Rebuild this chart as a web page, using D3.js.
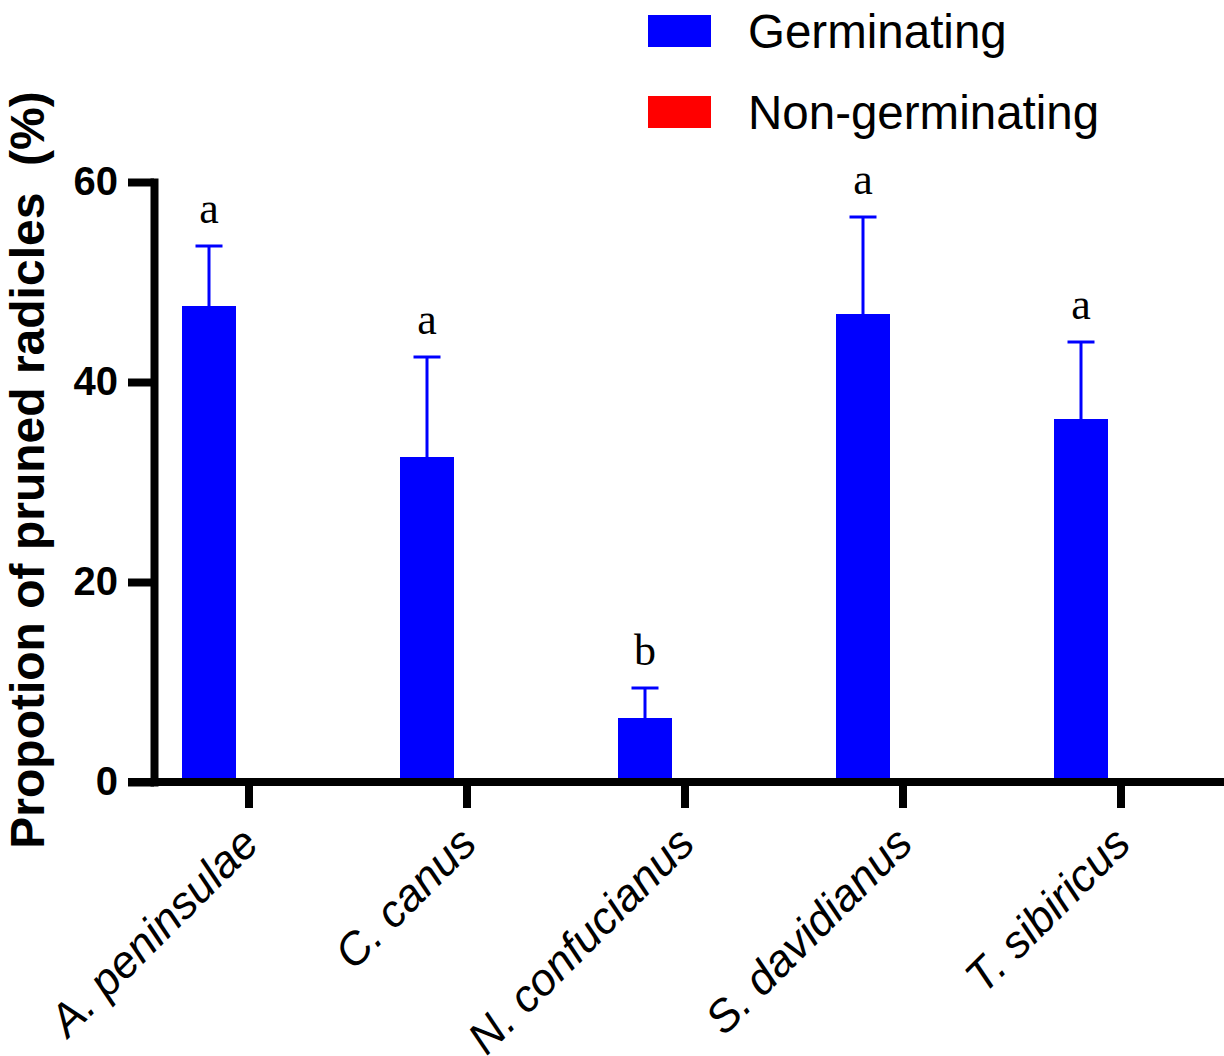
<!DOCTYPE html>
<html>
<head>
<meta charset="utf-8">
<script src="https://cdn.jsdelivr.net/npm/d3@7"></script>
<style>
  body { margin: 0; background: #fff; }
  svg { display: block; }
</style>
</head>
<body>
<div id="chart"></div>
<script>
const species = ['A. peninsulae', 'C. canus', 'N. confucianus', 'S. davidianus', 'T. sibiricus']
const seriesNames = ['Germinating', 'Non-germinating']
const germinating = [47.6, 32.5, 6.4, 46.8, 36.3]
const germinatingErr = [6.0, 10.0, 3.0, 9.7, 7.7]
const nonGerminating = [0, 0, 0, 0, 0]
const letters = ['a', 'a', 'b', 'a', 'a']
const yTicks = [0, 20, 40, 60]

const colors = { Germinating: '#0000ff', 'Non-germinating': '#ff0000' }

const width = 1224
const height = 1056

const svg = d3
  .select('#chart')
  .append('svg')
  .attr('width', width)
  .attr('height', height)

const x = d3.scaleBand().domain(species).range([140, 1230]).padding(0)

const xInner = d3
  .scaleBand()
  .domain(seriesNames)
  .range([0, x.bandwidth()])
  .paddingInner(0.325)
  .paddingOuter(0.525)

const y = d3.scaleLinear().domain([0, 60]).range([782, 182])

// y axis
const yAxis = svg
  .append('g')
  .attr('transform', 'translate(154,0)')
  .call(
    d3
      .axisLeft(y)
      .tickValues(yTicks)
      .tickSize(26)
      .tickSizeOuter(0)
      .tickPadding(10)
  )
yAxis.select('.domain').attr('stroke', '#000').attr('stroke-width', 8).attr('stroke-linecap', 'square')
yAxis.selectAll('.tick line').attr('stroke', '#000').attr('stroke-width', 8)
yAxis
  .selectAll('.tick text')
  .attr('fill', '#000')
  .style('font-family', 'Liberation Sans, Arial, sans-serif')
  .style('font-weight', 'bold')
  .style('font-size', '40px')

// x axis
const xAxis = svg
  .append('g')
  .attr('transform', 'translate(0,782)')
  .call(d3.axisBottom(x).tickSize(26).tickSizeOuter(0).tickFormat(''))
xAxis.select('.domain').remove()
xAxis.selectAll('.tick line').attr('stroke', '#000').attr('stroke-width', 8)
xAxis
  .append('line')
  .attr('x1', 128)
  .attr('x2', width)
  .attr('y1', 0)
  .attr('y2', 0)
  .attr('stroke', '#000')
  .attr('stroke-width', 8)

svg
  .append('g')
  .selectAll('text')
  .data(species)
  .enter()
  .append('text')
  .attr('transform', d => `translate(${x(d) + x.bandwidth() / 2 + 12},846) rotate(-45)`)
  .attr('text-anchor', 'end')
  .style('font-family', 'Liberation Sans, Arial, sans-serif')
  .style('font-style', 'italic')
  .style('font-size', '45px')
  .text(d => d)

// bars
const rows = species.map((s, i) => ({
  species: s,
  values: [
    { key: 'Germinating', value: germinating[i], err: germinatingErr[i] },
    { key: 'Non-germinating', value: nonGerminating[i], err: 0 }
  ],
  letter: letters[i]
}))

const groups = svg
  .append('g')
  .selectAll('g')
  .data(rows)
  .enter()
  .append('g')
  .attr('transform', d => `translate(${x(d.species)},0)`)

groups
  .selectAll('rect')
  .data(d => d.values)
  .enter()
  .append('rect')
  .attr('x', d => xInner(d.key))
  .attr('width', xInner.bandwidth())
  .attr('y', d => y(d.value))
  .attr('height', d => Math.max(0, y(0) - 4 - y(d.value)))
  .attr('fill', d => colors[d.key])

// error bars (germinating only, non-germinating are zero)
const errs = groups
  .selectAll('.err')
  .data(d => d.values.filter(v => v.value > 0))
  .enter()
  .append('g')
  .attr('class', 'err')
  .attr('stroke', d => colors[d.key])
  .attr('stroke-width', 3)

errs
  .append('line')
  .attr('x1', d => xInner(d.key) + xInner.bandwidth() / 2)
  .attr('x2', d => xInner(d.key) + xInner.bandwidth() / 2)
  .attr('y1', d => y(d.value))
  .attr('y2', d => y(d.value + d.err))

errs
  .append('line')
  .attr('x1', d => xInner(d.key) + xInner.bandwidth() / 2 - 13.5)
  .attr('x2', d => xInner(d.key) + xInner.bandwidth() / 2 + 13.5)
  .attr('y1', d => y(d.value + d.err))
  .attr('y2', d => y(d.value + d.err))

// significance letters
groups
  .append('text')
  .attr('x', xInner('Germinating') + xInner.bandwidth() / 2)
  .attr('y', (d, i) => y(germinating[i] + germinatingErr[i]) - 23)
  .attr('text-anchor', 'middle')
  .style('font-family', 'Liberation Serif, Times New Roman, serif')
  .style('font-size', '44px')
  .text(d => d.letter)

// y title
svg
  .append('text')
  .attr('transform', 'translate(44,470) rotate(-90)')
  .attr('text-anchor', 'middle')
  .style('font-family', 'Liberation Sans, Arial, sans-serif')
  .style('font-weight', 'bold')
  .style('font-size', '48px')
  .style('white-space', 'pre')
  .text('Propotion of pruned radicles  (%)')

// legend
const legend = svg
  .append('g')
  .selectAll('g')
  .data(seriesNames)
  .enter()
  .append('g')
  .attr('transform', (d, i) => `translate(648,${15 + i * 81})`)

legend
  .append('rect')
  .attr('width', 63)
  .attr('height', 32)
  .attr('fill', d => colors[d])

legend
  .append('text')
  .attr('x', 100)
  .attr('y', 33)
  .style('font-family', 'Liberation Sans, Arial, sans-serif')
  .style('font-size', '47.5px')
  .text(d => d)
</script>
</body>
</html>
